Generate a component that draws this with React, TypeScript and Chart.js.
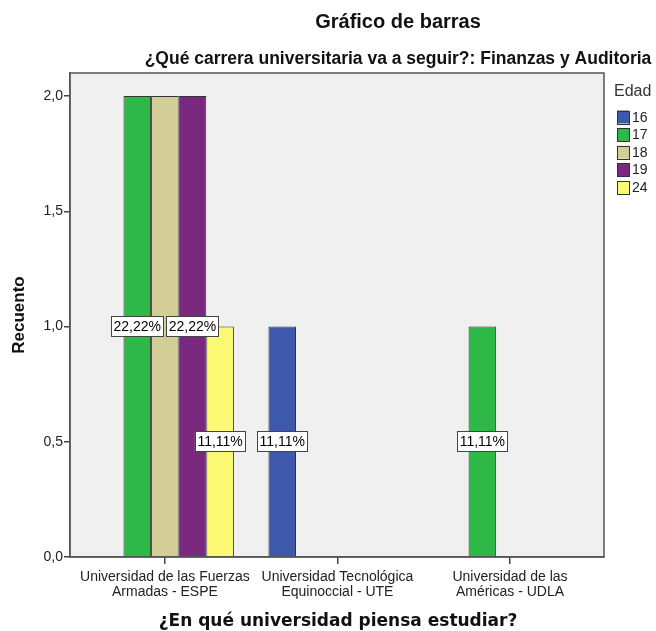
import React, { useEffect, useRef } from "react";
import { Chart, registerables } from "chart.js";

Chart.register(...registerables);

const universities: string[][] = [
  ["Universidad de las Fuerzas", "Armadas - ESPE"],
  ["Universidad Tecnológica", "Equinoccial - UTE"],
  ["Universidad de las", "Américas - UDLA"],
];
const ageGroups = ["16", "17", "18", "19", "24"];
const counts16 = [null, 1, null];
const counts17 = [2, null, 1];
const counts18 = [2, null, null];
const counts19 = [2, null, null];
const counts24 = [1, null, null];
const yTickValues = [0, 0.5, 1, 1.5, 2];
const ageColors = ["#3E58AC", "#2EB848", "#D3CE97", "#79287D", "#FBF873"];

const chartTitle = "Gráfico de barras";
const chartSubtitle = "¿Qué carrera universitaria va a seguir?: Finanzas y Auditoria";
const xTitle = "¿En qué universidad piensa estudiar?";
const yTitle = "Recuento";
const legendTitle = "Edad";

const allCounts = [counts16, counts17, counts18, counts19, counts24];

const ARIAL = '"Liberation Sans", Arial, sans-serif';

const spssPlugin = {
  id: "spss",
  beforeDraw(chart: any) {
    const { ctx, chartArea: a } = chart;
    ctx.save();
    ctx.fillStyle = "#F0F0F0";
    ctx.fillRect(a.left, a.top, a.right - a.left, a.bottom - a.top);
    ctx.restore();
  },
  afterDraw(chart: any) {
    const { ctx, chartArea: a } = chart;
    ctx.save();
    // frame
    ctx.strokeStyle = "#555";
    ctx.lineWidth = 1.5;
    ctx.strokeRect(a.left, a.top, a.right - a.left, a.bottom - a.top);

    // percentage labels
    let total = 0;
    allCounts.forEach((arr) => arr.forEach((v) => { if (v != null) total += v; }));
    const drawn: { l: number; r: number; t: number; b: number }[] = [];
    ctx.font = `14px ${ARIAL}`;
    ctx.textAlign = "center";
    ctx.textBaseline = "middle";
    chart.data.datasets.forEach((ds: any, di: number) => {
      const meta = chart.getDatasetMeta(di);
      meta.data.forEach((el: any, j: number) => {
        const v = allCounts[di][j];
        if (v == null) return;
        const txt = ((v / total) * 100).toFixed(2).replace(".", ",") + "%";
        const w = ctx.measureText(txt).width + 5;
        const h = 20;
        const cx = el.x;
        const cy = (el.y + el.base) / 2;
        const box = { l: cx - w / 2, r: cx + w / 2, t: cy - h / 2, b: cy + h / 2 };
        const overlap = drawn.some((d) => box.l < d.r && box.r > d.l && box.t < d.b && box.b > d.t);
        if (overlap) return;
        drawn.push(box);
        ctx.fillStyle = "#FFFFFF";
        ctx.fillRect(box.l, box.t, w, h);
        ctx.strokeStyle = "#444";
        ctx.lineWidth = 1;
        ctx.strokeRect(Math.round(box.l) + 0.5, Math.round(box.t) + 0.5, Math.round(w), h);
        ctx.fillStyle = "#000";
        ctx.fillText(txt, cx, cy + 1);
      });
    });

    // titles
    ctx.fillStyle = "#111";
    ctx.textBaseline = "alphabetic";
    ctx.textAlign = "center";
    ctx.font = `bold 20px ${ARIAL}`;
    ctx.fillText(chartTitle, 398, 28);
    ctx.font = `bold 17.5px ${ARIAL}`;
    ctx.fillText(chartSubtitle, 398, 64);
    ctx.font = `bold 17px "DejaVu Sans", sans-serif`;
    ctx.fillText(xTitle, (a.left + a.right) / 2 + 1, 626);

    ctx.save();
    ctx.translate(24, (a.top + a.bottom) / 2);
    ctx.rotate(-Math.PI / 2);
    ctx.font = `bold 17px ${ARIAL}`;
    ctx.fillText(yTitle, 0, 0);
    ctx.restore();

    // legend
    ctx.textAlign = "left";
    ctx.fillStyle = "#333";
    ctx.font = `16px ${ARIAL}`;
    ctx.fillText(legendTitle, 614, 96);
    ctx.font = `14px ${ARIAL}`;
    ctx.textBaseline = "middle";
    ageGroups.forEach((g, i) => {
      const y = 110.5 + i * 17.6;
      ctx.fillStyle = ageColors[i];
      ctx.fillRect(617, y, 12, 13);
      ctx.strokeStyle = "#333";
      ctx.lineWidth = 1;
      ctx.strokeRect(617.5, Math.round(y) + 0.5, 12, 13);
      ctx.fillStyle = "#222";
      ctx.fillText(g, 632, Math.round(y) + 7.5);
    });
    ctx.restore();
  },
};

export default function App() {
  const ref = useRef<HTMLCanvasElement>(null);
  useEffect(() => {
    if (!ref.current) return;
    const chart = new Chart(ref.current, {
      type: "bar",
      data: {
        datasets: ageGroups.map((g, i) => ({
          label: g,
          data: allCounts[i].map((v, j) => ({ x: j, y: v })) as any,
          backgroundColor: ageColors[i],
          borderColor: "#333",
          borderWidth: 1,
          categoryPercentage: 0.8,
          barPercentage: 1.0,
        })),
      },
      options: {
        animation: false,
        responsive: false,
        events: [],
        layout: { padding: { top: 73, right: 52, left: 0, bottom: 0 } },
        plugins: { legend: { display: false }, title: { display: false }, tooltip: { enabled: false } },
        scales: {
          x: {
            type: "linear",
            min: -0.55,
            max: 2.545,
            offset: false,
            afterBuildTicks: (s: any) => {
              s.ticks = universities.map((_, i) => ({ value: i }));
            },
            afterFit: (s: any) => {
              s.height = 74;
            },
            ticks: {
              autoSkip: false,
              maxRotation: 0,
              minRotation: 0,
              padding: 5,
              color: "#222",
              font: { family: ARIAL, size: 14, lineHeight: 1.1 },
              callback: (v: any) => universities[v as number] ?? "",
            },
            grid: { offset: false, drawOnChartArea: false, drawTicks: true, tickLength: 7, color: "#444", lineWidth: 1.5 },
            border: { display: true, color: "#555", width: 1.5 },
          },
          y: {
            type: "linear",
            min: 0,
            max: 2.1,
            afterBuildTicks: (s: any) => {
              s.ticks = yTickValues.map((v) => ({ value: v }));
            },
            afterFit: (s: any) => {
              s.width = 70;
            },
            ticks: {
              padding: 1,
              color: "#222",
              font: { family: ARIAL, size: 14 },
              callback: (v: any) => Number(v).toFixed(1).replace(".", ","),
            },
            grid: { drawOnChartArea: false, drawTicks: true, tickLength: 6, color: "#444", lineWidth: 1.5 },
            border: { display: true, color: "#555", width: 1.5 },
          },
        },
      },
      plugins: [spssPlugin],
    });
    return () => chart.destroy();
  }, []);
  return (
    <div style={{ position: "absolute", left: 0, top: 0, width: 656, height: 631, background: "#fff" }}>
      <canvas ref={ref} width={656} height={631} style={{ display: "block" }} />
    </div>
  );
}
